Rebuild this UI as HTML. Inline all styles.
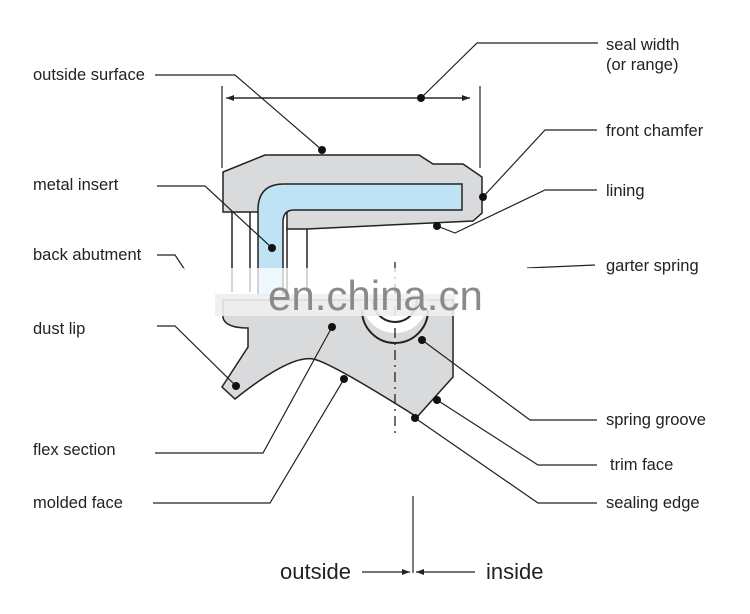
<!DOCTYPE html>
<html><head><meta charset="utf-8"><style>
html,body{margin:0;padding:0;background:#fff;}
svg{display:block;font-family:"Liberation Sans",Arial,sans-serif;}
</style></head><body>
<svg width="750" height="614" viewBox="0 0 750 614" xmlns="http://www.w3.org/2000/svg">
<defs>
<marker id="a" markerWidth="8" markerHeight="6" refX="8" refY="3" orient="auto" markerUnits="userSpaceOnUse"><path d="M0,0 L8,3 L0,6 Z" fill="#222"/></marker>
</defs>
<g stroke="#222" stroke-width="1.5" fill="none">
<line x1="232" y1="212" x2="232" y2="292"/>
<line x1="250" y1="212" x2="250" y2="292"/>
<line x1="287" y1="226" x2="287" y2="292"/>
<line x1="307" y1="229" x2="307" y2="292"/>
<path d="M223,172 L265,155 L419,155 L433,164 L463,164 L482,177 L482,213 L473,221 L307,229 L287,229 L287,212 L223,212 Z" fill="#d9dadb"/>
<path d="M258,295 L258,210 Q258,184 284,184 L462,184 L462,210 L294,210 Q283,210 283,222 L283,295 Z" fill="#bfe3f5"/>
<path d="M223,300 L223,318 Q226,328 248,328 L248,347 L222,387 L235,399 Q290,355 313,359 Q330,362 417,417 L453,377 L453,300 Z" fill="#d9dadb"/>
<path d="M362,300 A33,33 0 0 0 428,300 Z" fill="#fff" stroke="none"/>
<path d="M362,310 A33,33 0 0 0 428,310" stroke-width="2"/>
<path d="M373,300 A22,22 0 0 0 417,300" stroke-width="2"/>
<line x1="395" y1="262" x2="395" y2="436" stroke-dasharray="10,5,2,5" stroke-width="1.3"/>
<line x1="222" y1="86" x2="222" y2="168" stroke-width="1.2"/>
<line x1="480" y1="86" x2="480" y2="168" stroke-width="1.2"/>
<line x1="232" y1="98" x2="470" y2="98" stroke-width="1.2" marker-end="url(#a)"/>
<line x1="470" y1="98" x2="226" y2="98" stroke-width="1.2" marker-end="url(#a)"/>
<g stroke-width="1.2">
<polyline points="155,75 235,75 322,150"/>
<polyline points="421,98 477,43 598,43"/>
<polyline points="483,197 545,130 597,130"/>
<polyline points="437,226 455,233 545,190 597,190"/>
<polyline points="157,186 205,186 272,248"/>
<polyline points="157,255 175,255 185,270"/>
<polyline points="527,268 595,265"/>
<polyline points="157,326 175,326 236,386"/>
<polyline points="155,453 263,453 332,327"/>
<polyline points="153,503 270,503 344,379"/>
<polyline points="422,340 530,420 597,420"/>
<polyline points="437,400 538,465 597,465"/>
<polyline points="415,418 538,503 597,503"/>
<line x1="413" y1="496" x2="413" y2="573"/>
<line x1="362" y1="572" x2="410" y2="572" marker-end="url(#a)"/>
<line x1="475" y1="572" x2="416" y2="572" marker-end="url(#a)"/>
</g>
</g>
<g fill="#111">
<circle cx="322" cy="150" r="4"/><circle cx="421" cy="98" r="4"/><circle cx="483" cy="197" r="4"/>
<circle cx="437" cy="226" r="4"/><circle cx="272" cy="248" r="4"/><circle cx="236" cy="386" r="4"/>
<circle cx="332" cy="327" r="4"/><circle cx="344" cy="379" r="4"/><circle cx="422" cy="340" r="4"/>
<circle cx="437" cy="400" r="4"/><circle cx="415" cy="418" r="4"/>
</g>
<rect x="100" y="268" width="620" height="30" fill="#fff" opacity="0.75"/>
<rect x="215" y="294" width="240" height="22" fill="#eeeeee" opacity="0.9"/>
<text x="268" y="310" font-size="42" fill="#8a8a8a">en.china.cn</text>
<g font-size="16.5" fill="#222">
<text x="33" y="80">outside surface</text>
<text x="33" y="190">metal insert</text>
<text x="33" y="260">back abutment</text>
<text x="33" y="334">dust lip</text>
<text x="33" y="455">flex section</text>
<text x="33" y="508">molded face</text>
<text x="606" y="50">seal width</text>
<text x="606" y="70">(or range)</text>
<text x="606" y="136">front chamfer</text>
<text x="606" y="196">lining</text>
<text x="606" y="271">garter spring</text>
<text x="606" y="425">spring groove</text>
<text x="610" y="470">trim face</text>
<text x="606" y="508">sealing edge</text>
</g>
<text x="280" y="579" font-size="22" fill="#222">outside</text>
<text x="486" y="579" font-size="22" fill="#222">inside</text>
</svg>
</body></html>
